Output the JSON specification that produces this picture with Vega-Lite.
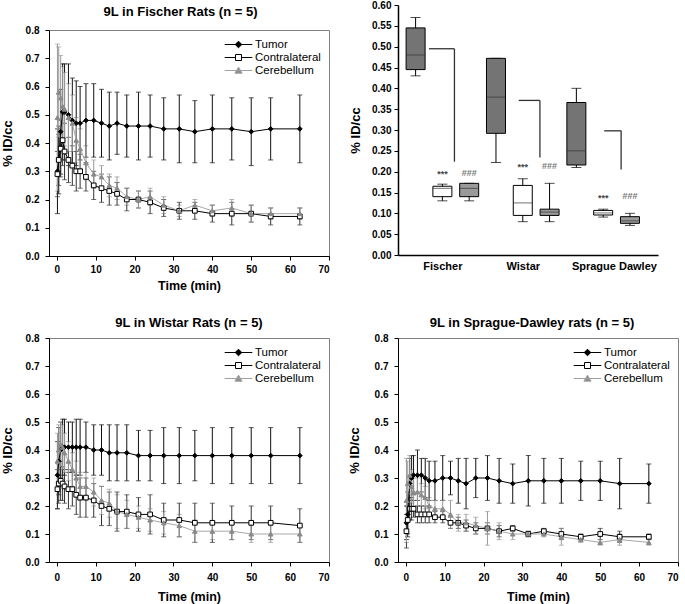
{
  "$schema": "https://vega.github.io/schema/vega-lite/v6.json",
  "padding": {"left": 0, "top": 0, "right": 0, "bottom": 0},
  "autosize": {"type": "pad"},
  "config": {
    "font": "Liberation Sans",
    "view": {"stroke": "#808080", "strokeWidth": 1},
    "axis": {"grid": false, "domainColor": "#000000", "tickColor": "#000000", "labelColor": "#000000", "titleColor": "#000000", "labelFont": "Liberation Sans", "titleFont": "Liberation Sans", "labelFontSize": 10, "labelFontWeight": "bold", "titleFontSize": 13, "titleFontWeight": "bold", "tickSize": 4, "labelPadding": 4},
    "axisY": {"labelOverlap": false},
    "title": {"font": "Liberation Sans", "fontSize": 13, "fontWeight": "bold", "color": "#000000"},
    "legend": {"labelFont": "Liberation Sans", "labelFontSize": 11.5, "labelColor": "#000000"}
  },
  "datasets": {
    "fischer": [
      {"tissue": "Tumor", "t": 0.17, "m": 0.30, "e": 0.15},
      {"tissue": "Tumor", "t": 0.5, "m": 0.34, "e": 0.12},
      {"tissue": "Tumor", "t": 1, "m": 0.44, "e": 0.15},
      {"tissue": "Tumor", "t": 1.5, "m": 0.51, "e": 0.17},
      {"tissue": "Tumor", "t": 2, "m": 0.51, "e": 0.17},
      {"tissue": "Tumor", "t": 3, "m": 0.50, "e": 0.18},
      {"tissue": "Tumor", "t": 4, "m": 0.48, "e": 0.15},
      {"tissue": "Tumor", "t": 5, "m": 0.47, "e": 0.15},
      {"tissue": "Tumor", "t": 6, "m": 0.47, "e": 0.13},
      {"tissue": "Tumor", "t": 7.5, "m": 0.48, "e": 0.13},
      {"tissue": "Tumor", "t": 9.5, "m": 0.48, "e": 0.13},
      {"tissue": "Tumor", "t": 11.5, "m": 0.47, "e": 0.12},
      {"tissue": "Tumor", "t": 13.5, "m": 0.46, "e": 0.12},
      {"tissue": "Tumor", "t": 15.5, "m": 0.47, "e": 0.11},
      {"tissue": "Tumor", "t": 18, "m": 0.46, "e": 0.11},
      {"tissue": "Tumor", "t": 21, "m": 0.46, "e": 0.12},
      {"tissue": "Tumor", "t": 24, "m": 0.46, "e": 0.11},
      {"tissue": "Tumor", "t": 27.5, "m": 0.45, "e": 0.11},
      {"tissue": "Tumor", "t": 31.5, "m": 0.45, "e": 0.12},
      {"tissue": "Tumor", "t": 35.5, "m": 0.44, "e": 0.11},
      {"tissue": "Tumor", "t": 40, "m": 0.45, "e": 0.12},
      {"tissue": "Tumor", "t": 45, "m": 0.45, "e": 0.11},
      {"tissue": "Tumor", "t": 50, "m": 0.44, "e": 0.12},
      {"tissue": "Tumor", "t": 55, "m": 0.45, "e": 0.11},
      {"tissue": "Tumor", "t": 62.5, "m": 0.45, "e": 0.12},
      {"tissue": "Contralateral", "t": 0.17, "m": 0.29, "e": 0.08},
      {"tissue": "Contralateral", "t": 0.5, "m": 0.34, "e": 0.09},
      {"tissue": "Contralateral", "t": 1, "m": 0.38, "e": 0.10},
      {"tissue": "Contralateral", "t": 1.5, "m": 0.41, "e": 0.09},
      {"tissue": "Contralateral", "t": 2, "m": 0.37, "e": 0.10},
      {"tissue": "Contralateral", "t": 3, "m": 0.34, "e": 0.08},
      {"tissue": "Contralateral", "t": 4, "m": 0.32, "e": 0.07},
      {"tissue": "Contralateral", "t": 5, "m": 0.30, "e": 0.07},
      {"tissue": "Contralateral", "t": 6, "m": 0.30, "e": 0.06},
      {"tissue": "Contralateral", "t": 7.5, "m": 0.28, "e": 0.05},
      {"tissue": "Contralateral", "t": 9.5, "m": 0.25, "e": 0.05},
      {"tissue": "Contralateral", "t": 11.5, "m": 0.24, "e": 0.05},
      {"tissue": "Contralateral", "t": 13.5, "m": 0.23, "e": 0.05},
      {"tissue": "Contralateral", "t": 15.5, "m": 0.22, "e": 0.04},
      {"tissue": "Contralateral", "t": 18, "m": 0.20, "e": 0.04},
      {"tissue": "Contralateral", "t": 21, "m": 0.20, "e": 0.03},
      {"tissue": "Contralateral", "t": 24, "m": 0.19, "e": 0.04},
      {"tissue": "Contralateral", "t": 27.5, "m": 0.17, "e": 0.03},
      {"tissue": "Contralateral", "t": 31.5, "m": 0.16, "e": 0.03},
      {"tissue": "Contralateral", "t": 35.5, "m": 0.16, "e": 0.03},
      {"tissue": "Contralateral", "t": 40, "m": 0.15, "e": 0.03},
      {"tissue": "Contralateral", "t": 45, "m": 0.15, "e": 0.04},
      {"tissue": "Contralateral", "t": 50, "m": 0.15, "e": 0.03},
      {"tissue": "Contralateral", "t": 55, "m": 0.14, "e": 0.03},
      {"tissue": "Contralateral", "t": 62.5, "m": 0.14, "e": 0.03},
      {"tissue": "Cerebellum", "t": 0.17, "m": 0.49, "e": 0.26},
      {"tissue": "Cerebellum", "t": 0.5, "m": 0.58, "e": 0.16},
      {"tissue": "Cerebellum", "t": 1, "m": 0.56, "e": 0.15},
      {"tissue": "Cerebellum", "t": 1.5, "m": 0.53, "e": 0.14},
      {"tissue": "Cerebellum", "t": 2, "m": 0.52, "e": 0.13},
      {"tissue": "Cerebellum", "t": 3, "m": 0.49, "e": 0.12},
      {"tissue": "Cerebellum", "t": 4, "m": 0.47, "e": 0.10},
      {"tissue": "Cerebellum", "t": 5, "m": 0.41, "e": 0.08},
      {"tissue": "Cerebellum", "t": 6, "m": 0.38, "e": 0.07},
      {"tissue": "Cerebellum", "t": 7.5, "m": 0.33, "e": 0.06},
      {"tissue": "Cerebellum", "t": 9.5, "m": 0.29, "e": 0.05},
      {"tissue": "Cerebellum", "t": 11.5, "m": 0.28, "e": 0.04},
      {"tissue": "Cerebellum", "t": 13.5, "m": 0.25, "e": 0.04},
      {"tissue": "Cerebellum", "t": 15.5, "m": 0.24, "e": 0.04},
      {"tissue": "Cerebellum", "t": 18, "m": 0.21, "e": 0.03},
      {"tissue": "Cerebellum", "t": 21, "m": 0.20, "e": 0.03},
      {"tissue": "Cerebellum", "t": 24, "m": 0.21, "e": 0.03},
      {"tissue": "Cerebellum", "t": 27.5, "m": 0.18, "e": 0.03},
      {"tissue": "Cerebellum", "t": 31.5, "m": 0.16, "e": 0.02},
      {"tissue": "Cerebellum", "t": 35.5, "m": 0.18, "e": 0.02},
      {"tissue": "Cerebellum", "t": 40, "m": 0.16, "e": 0.02},
      {"tissue": "Cerebellum", "t": 45, "m": 0.17, "e": 0.03},
      {"tissue": "Cerebellum", "t": 50, "m": 0.15, "e": 0.03},
      {"tissue": "Cerebellum", "t": 55, "m": 0.15, "e": 0.02},
      {"tissue": "Cerebellum", "t": 62.5, "m": 0.15, "e": 0.02}
    ],
    "wistar": [
      {"tissue": "Tumor", "t": 0.17, "m": 0.31, "e": 0.12},
      {"tissue": "Tumor", "t": 0.5, "m": 0.36, "e": 0.12},
      {"tissue": "Tumor", "t": 1, "m": 0.40, "e": 0.10},
      {"tissue": "Tumor", "t": 1.5, "m": 0.41, "e": 0.10},
      {"tissue": "Tumor", "t": 2, "m": 0.41, "e": 0.10},
      {"tissue": "Tumor", "t": 3, "m": 0.41, "e": 0.09},
      {"tissue": "Tumor", "t": 4, "m": 0.41, "e": 0.09},
      {"tissue": "Tumor", "t": 5, "m": 0.41, "e": 0.10},
      {"tissue": "Tumor", "t": 6, "m": 0.41, "e": 0.10},
      {"tissue": "Tumor", "t": 7.5, "m": 0.41, "e": 0.09},
      {"tissue": "Tumor", "t": 9.5, "m": 0.40, "e": 0.09},
      {"tissue": "Tumor", "t": 11.5, "m": 0.40, "e": 0.09},
      {"tissue": "Tumor", "t": 13.5, "m": 0.39, "e": 0.10},
      {"tissue": "Tumor", "t": 15.5, "m": 0.39, "e": 0.10},
      {"tissue": "Tumor", "t": 18, "m": 0.39, "e": 0.10},
      {"tissue": "Tumor", "t": 21, "m": 0.38, "e": 0.09},
      {"tissue": "Tumor", "t": 24, "m": 0.38, "e": 0.09},
      {"tissue": "Tumor", "t": 27.5, "m": 0.38, "e": 0.10},
      {"tissue": "Tumor", "t": 31.5, "m": 0.38, "e": 0.10},
      {"tissue": "Tumor", "t": 35.5, "m": 0.38, "e": 0.09},
      {"tissue": "Tumor", "t": 40, "m": 0.38, "e": 0.10},
      {"tissue": "Tumor", "t": 45, "m": 0.38, "e": 0.10},
      {"tissue": "Tumor", "t": 50, "m": 0.38, "e": 0.10},
      {"tissue": "Tumor", "t": 55, "m": 0.38, "e": 0.10},
      {"tissue": "Tumor", "t": 62.5, "m": 0.38, "e": 0.10},
      {"tissue": "Contralateral", "t": 0.17, "m": 0.26, "e": 0.07},
      {"tissue": "Contralateral", "t": 0.5, "m": 0.28, "e": 0.07},
      {"tissue": "Contralateral", "t": 1, "m": 0.29, "e": 0.07},
      {"tissue": "Contralateral", "t": 1.5, "m": 0.28, "e": 0.06},
      {"tissue": "Contralateral", "t": 2, "m": 0.27, "e": 0.06},
      {"tissue": "Contralateral", "t": 3, "m": 0.26, "e": 0.07},
      {"tissue": "Contralateral", "t": 4, "m": 0.26, "e": 0.06},
      {"tissue": "Contralateral", "t": 5, "m": 0.24, "e": 0.07},
      {"tissue": "Contralateral", "t": 6, "m": 0.23, "e": 0.07},
      {"tissue": "Contralateral", "t": 7.5, "m": 0.23, "e": 0.07},
      {"tissue": "Contralateral", "t": 9.5, "m": 0.22, "e": 0.06},
      {"tissue": "Contralateral", "t": 11.5, "m": 0.20, "e": 0.07},
      {"tissue": "Contralateral", "t": 13.5, "m": 0.19, "e": 0.06},
      {"tissue": "Contralateral", "t": 15.5, "m": 0.18, "e": 0.07},
      {"tissue": "Contralateral", "t": 18, "m": 0.18, "e": 0.06},
      {"tissue": "Contralateral", "t": 21, "m": 0.17, "e": 0.06},
      {"tissue": "Contralateral", "t": 24, "m": 0.17, "e": 0.07},
      {"tissue": "Contralateral", "t": 27.5, "m": 0.15, "e": 0.06},
      {"tissue": "Contralateral", "t": 31.5, "m": 0.15, "e": 0.06},
      {"tissue": "Contralateral", "t": 35.5, "m": 0.14, "e": 0.07},
      {"tissue": "Contralateral", "t": 40, "m": 0.14, "e": 0.07},
      {"tissue": "Contralateral", "t": 45, "m": 0.14, "e": 0.06},
      {"tissue": "Contralateral", "t": 50, "m": 0.14, "e": 0.06},
      {"tissue": "Contralateral", "t": 55, "m": 0.14, "e": 0.06},
      {"tissue": "Contralateral", "t": 62.5, "m": 0.13, "e": 0.06},
      {"tissue": "Cerebellum", "t": 0.17, "m": 0.36, "e": 0.10},
      {"tissue": "Cerebellum", "t": 0.5, "m": 0.40, "e": 0.09},
      {"tissue": "Cerebellum", "t": 1, "m": 0.42, "e": 0.08},
      {"tissue": "Cerebellum", "t": 1.5, "m": 0.41, "e": 0.08},
      {"tissue": "Cerebellum", "t": 2, "m": 0.39, "e": 0.07},
      {"tissue": "Cerebellum", "t": 3, "m": 0.36, "e": 0.07},
      {"tissue": "Cerebellum", "t": 4, "m": 0.33, "e": 0.06},
      {"tissue": "Cerebellum", "t": 5, "m": 0.30, "e": 0.06},
      {"tissue": "Cerebellum", "t": 6, "m": 0.27, "e": 0.05},
      {"tissue": "Cerebellum", "t": 7.5, "m": 0.27, "e": 0.05},
      {"tissue": "Cerebellum", "t": 9.5, "m": 0.25, "e": 0.05},
      {"tissue": "Cerebellum", "t": 11.5, "m": 0.22, "e": 0.05},
      {"tissue": "Cerebellum", "t": 13.5, "m": 0.21, "e": 0.05},
      {"tissue": "Cerebellum", "t": 15.5, "m": 0.18, "e": 0.06},
      {"tissue": "Cerebellum", "t": 18, "m": 0.17, "e": 0.05},
      {"tissue": "Cerebellum", "t": 21, "m": 0.16, "e": 0.04},
      {"tissue": "Cerebellum", "t": 24, "m": 0.15, "e": 0.04},
      {"tissue": "Cerebellum", "t": 27.5, "m": 0.14, "e": 0.04},
      {"tissue": "Cerebellum", "t": 31.5, "m": 0.13, "e": 0.04},
      {"tissue": "Cerebellum", "t": 35.5, "m": 0.11, "e": 0.04},
      {"tissue": "Cerebellum", "t": 40, "m": 0.11, "e": 0.03},
      {"tissue": "Cerebellum", "t": 45, "m": 0.11, "e": 0.03},
      {"tissue": "Cerebellum", "t": 50, "m": 0.10, "e": 0.03},
      {"tissue": "Cerebellum", "t": 55, "m": 0.10, "e": 0.03},
      {"tissue": "Cerebellum", "t": 62.5, "m": 0.10, "e": 0.03}
    ],
    "sd": [
      {"tissue": "Tumor", "t": 0.17, "m": 0.14, "e": 0.06},
      {"tissue": "Tumor", "t": 0.5, "m": 0.17, "e": 0.08},
      {"tissue": "Tumor", "t": 1, "m": 0.28, "e": 0.09},
      {"tissue": "Tumor", "t": 1.5, "m": 0.30, "e": 0.08},
      {"tissue": "Tumor", "t": 2, "m": 0.31, "e": 0.07},
      {"tissue": "Tumor", "t": 3, "m": 0.31, "e": 0.09},
      {"tissue": "Tumor", "t": 4, "m": 0.31, "e": 0.06},
      {"tissue": "Tumor", "t": 5, "m": 0.30, "e": 0.07},
      {"tissue": "Tumor", "t": 6, "m": 0.29, "e": 0.07},
      {"tissue": "Tumor", "t": 7.5, "m": 0.29, "e": 0.07},
      {"tissue": "Tumor", "t": 9.5, "m": 0.30, "e": 0.08},
      {"tissue": "Tumor", "t": 11.5, "m": 0.30, "e": 0.06},
      {"tissue": "Tumor", "t": 13.5, "m": 0.29, "e": 0.08},
      {"tissue": "Tumor", "t": 15.5, "m": 0.28, "e": 0.09},
      {"tissue": "Tumor", "t": 18, "m": 0.30, "e": 0.07},
      {"tissue": "Tumor", "t": 21, "m": 0.30, "e": 0.08},
      {"tissue": "Tumor", "t": 24, "m": 0.29, "e": 0.08},
      {"tissue": "Tumor", "t": 27.5, "m": 0.28, "e": 0.07},
      {"tissue": "Tumor", "t": 31.5, "m": 0.29, "e": 0.09},
      {"tissue": "Tumor", "t": 35.5, "m": 0.29, "e": 0.08},
      {"tissue": "Tumor", "t": 40, "m": 0.29, "e": 0.08},
      {"tissue": "Tumor", "t": 45, "m": 0.29, "e": 0.07},
      {"tissue": "Tumor", "t": 50, "m": 0.29, "e": 0.07},
      {"tissue": "Tumor", "t": 55, "m": 0.28, "e": 0.09},
      {"tissue": "Tumor", "t": 62.5, "m": 0.28, "e": 0.07},
      {"tissue": "Contralateral", "t": 0.17, "m": 0.11, "e": 0.06},
      {"tissue": "Contralateral", "t": 0.5, "m": 0.15, "e": 0.05},
      {"tissue": "Contralateral", "t": 1, "m": 0.19, "e": 0.04},
      {"tissue": "Contralateral", "t": 1.5, "m": 0.19, "e": 0.04},
      {"tissue": "Contralateral", "t": 2, "m": 0.19, "e": 0.03},
      {"tissue": "Contralateral", "t": 3, "m": 0.17, "e": 0.03},
      {"tissue": "Contralateral", "t": 4, "m": 0.17, "e": 0.03},
      {"tissue": "Contralateral", "t": 5, "m": 0.17, "e": 0.03},
      {"tissue": "Contralateral", "t": 6, "m": 0.17, "e": 0.03},
      {"tissue": "Contralateral", "t": 7.5, "m": 0.16, "e": 0.02},
      {"tissue": "Contralateral", "t": 9.5, "m": 0.16, "e": 0.02},
      {"tissue": "Contralateral", "t": 11.5, "m": 0.14, "e": 0.02},
      {"tissue": "Contralateral", "t": 13.5, "m": 0.14, "e": 0.02},
      {"tissue": "Contralateral", "t": 15.5, "m": 0.13, "e": 0.02},
      {"tissue": "Contralateral", "t": 18, "m": 0.12, "e": 0.02},
      {"tissue": "Contralateral", "t": 21, "m": 0.12, "e": 0.02},
      {"tissue": "Contralateral", "t": 24, "m": 0.11, "e": 0.02},
      {"tissue": "Contralateral", "t": 27.5, "m": 0.12, "e": 0.01},
      {"tissue": "Contralateral", "t": 31.5, "m": 0.10, "e": 0.01},
      {"tissue": "Contralateral", "t": 35.5, "m": 0.11, "e": 0.01},
      {"tissue": "Contralateral", "t": 40, "m": 0.10, "e": 0.02},
      {"tissue": "Contralateral", "t": 45, "m": 0.09, "e": 0.01},
      {"tissue": "Contralateral", "t": 50, "m": 0.10, "e": 0.02},
      {"tissue": "Contralateral", "t": 55, "m": 0.09, "e": 0.02},
      {"tissue": "Contralateral", "t": 62.5, "m": 0.09, "e": 0.01},
      {"tissue": "Cerebellum", "t": 0.17, "m": 0.22, "e": 0.15},
      {"tissue": "Cerebellum", "t": 0.5, "m": 0.28, "e": 0.08},
      {"tissue": "Cerebellum", "t": 1, "m": 0.31, "e": 0.07},
      {"tissue": "Cerebellum", "t": 1.5, "m": 0.27, "e": 0.06},
      {"tissue": "Cerebellum", "t": 2, "m": 0.25, "e": 0.05},
      {"tissue": "Cerebellum", "t": 3, "m": 0.25, "e": 0.05},
      {"tissue": "Cerebellum", "t": 4, "m": 0.24, "e": 0.04},
      {"tissue": "Cerebellum", "t": 5, "m": 0.23, "e": 0.04},
      {"tissue": "Cerebellum", "t": 6, "m": 0.20, "e": 0.03},
      {"tissue": "Cerebellum", "t": 7.5, "m": 0.19, "e": 0.03},
      {"tissue": "Cerebellum", "t": 9.5, "m": 0.19, "e": 0.03},
      {"tissue": "Cerebellum", "t": 11.5, "m": 0.17, "e": 0.05},
      {"tissue": "Cerebellum", "t": 13.5, "m": 0.14, "e": 0.03},
      {"tissue": "Cerebellum", "t": 15.5, "m": 0.14, "e": 0.03},
      {"tissue": "Cerebellum", "t": 18, "m": 0.13, "e": 0.03},
      {"tissue": "Cerebellum", "t": 21, "m": 0.12, "e": 0.06},
      {"tissue": "Cerebellum", "t": 24, "m": 0.11, "e": 0.03},
      {"tissue": "Cerebellum", "t": 27.5, "m": 0.10, "e": 0.02},
      {"tissue": "Cerebellum", "t": 31.5, "m": 0.10, "e": 0.01},
      {"tissue": "Cerebellum", "t": 35.5, "m": 0.10, "e": 0.01},
      {"tissue": "Cerebellum", "t": 40, "m": 0.09, "e": 0.03},
      {"tissue": "Cerebellum", "t": 45, "m": 0.08, "e": 0.01},
      {"tissue": "Cerebellum", "t": 50, "m": 0.07, "e": 0.01},
      {"tissue": "Cerebellum", "t": 55, "m": 0.08, "e": 0.02},
      {"tissue": "Cerebellum", "t": 62.5, "m": 0.07, "e": 0.01}
    ],
    "box": [
      {"strain": "Fischer", "tissue": "Tumor", "pos": 1, "lo": 0.43, "q1": 0.445, "med": 0.48, "q3": 0.545, "hi": 0.57, "sig": "", "sy": 0},
      {"strain": "Fischer", "tissue": "Contralateral", "pos": 2, "lo": 0.13, "q1": 0.14, "med": 0.16, "q3": 0.165, "hi": 0.17, "sig": "***", "sy": 0.194},
      {"strain": "Fischer", "tissue": "Cerebellum", "pos": 3, "lo": 0.13, "q1": 0.14, "med": 0.16, "q3": 0.172, "hi": 0.172, "sig": "###", "sy": 0.197},
      {"strain": "Wistar", "tissue": "Tumor", "pos": 4, "lo": 0.222, "q1": 0.292, "med": 0.379, "q3": 0.472, "hi": 0.472, "sig": "", "sy": 0},
      {"strain": "Wistar", "tissue": "Contralateral", "pos": 5, "lo": 0.08, "q1": 0.095, "med": 0.125, "q3": 0.167, "hi": 0.183, "sig": "***", "sy": 0.212},
      {"strain": "Wistar", "tissue": "Cerebellum", "pos": 6, "lo": 0.08, "q1": 0.095, "med": 0.103, "q3": 0.11, "hi": 0.172, "sig": "###", "sy": 0.214},
      {"strain": "Sprague Dawley", "tissue": "Tumor", "pos": 7, "lo": 0.21, "q1": 0.216, "med": 0.25, "q3": 0.366, "hi": 0.40, "sig": "", "sy": 0},
      {"strain": "Sprague Dawley", "tissue": "Contralateral", "pos": 8, "lo": 0.091, "q1": 0.096, "med": 0.101, "q3": 0.107, "hi": 0.11, "sig": "***", "sy": 0.137},
      {"strain": "Sprague Dawley", "tissue": "Cerebellum", "pos": 9, "lo": 0.071, "q1": 0.076, "med": 0.082, "q3": 0.092, "hi": 0.10, "sig": "###", "sy": 0.141}
    ],
    "brackets": [
      {"strain": "Fischer", "x1": 1.5, "x2": 2.45, "top": 0.495, "bot": 0.224},
      {"strain": "Wistar", "x1": 4.85, "x2": 5.64, "top": 0.371, "bot": 0.234},
      {"strain": "Sprague Dawley", "x1": 8.04, "x2": 8.67, "top": 0.298, "bot": 0.205}
    ]
  },
  "columns": 2,
  "align": "none",
  "spacing": 18,
  "concat": [
    {
      "spacing": 24,
      "vconcat": [
        {
          "width": 280,
          "height": 226,
          "data": {"name": "fischer"},
          "encoding": {
            "y": {"field": "m", "type": "quantitative", "scale": {"domain": [0, 0.8], "nice": false}, "axis": {"values": [0, 0.1, 0.2, 0.3, 0.4, 0.5, 0.6, 0.7, 0.8], "tickCount": 20, "format": ".1f", "title": "% ID/cc", "labelPadding": 6, "titlePadding": 11}}
          },
          "layer": [
            {"mark": {"type": "errorbar", "ticks": {"size": 5}, "thickness": 1}, "encoding": {
              "x": {"field": "t", "type": "quantitative", "scale": {"domain": [-2, 70], "nice": false, "zero": false}, "axis": {"values": [0, 10, 20, 30, 40, 50, 60, 70], "title": "Time (min)", "titleFontSize": 12.5, "labelPadding": 4, "titlePadding": 5}},
              "yError": {"field": "e"}, "color": {"field": "tissue", "type": "nominal", "scale": {"domain": ["Tumor", "Contralateral", "Cerebellum"], "range": ["#111111", "#333333", "#9a9a9a"]}, "legend": null}}},
            {"mark": {"type": "line", "strokeWidth": 1}, "encoding": {
              "x": {"field": "t", "type": "quantitative", "scale": {"domain": [-2, 70], "nice": false, "zero": false}, "axis": null},
              "color": {"field": "tissue", "type": "nominal", "scale": {"domain": ["Tumor", "Contralateral", "Cerebellum"], "range": ["#000000", "#000000", "#a8a8a8"]}, "legend": null}}},
            {"mark": {"type": "point", "opacity": 1, "strokeWidth": 1, "size": 22}, "encoding": {
              "x": {"field": "t", "type": "quantitative", "scale": {"domain": [-2, 70], "nice": false, "zero": false}, "axis": null},
              "shape": {"field": "tissue", "type": "nominal", "scale": {"domain": ["Tumor", "Contralateral", "Cerebellum"], "range": ["diamond", "square", "triangle-up"]}, "legend": null},
              "fill": {"field": "tissue", "type": "nominal", "scale": {"domain": ["Tumor", "Contralateral", "Cerebellum"], "range": ["#000000", "#ffffff", "#8a8a8a"]}, "legend": null},
              "stroke": {"field": "tissue", "type": "nominal", "scale": {"domain": ["Tumor", "Contralateral", "Cerebellum"], "range": ["#000000", "#000000", "#8a8a8a"]}, "legend": null}}},
            {"transform": [{"filter": "datum.t < 0"}], "mark": {"type": "point", "opacity": 1, "strokeWidth": 1}, "encoding": {
              "x": {"field": "t", "type": "quantitative", "scale": {"domain": [-2, 70], "nice": false, "zero": false}, "axis": null},
              "shape": {"field": "tissue", "type": "nominal", "scale": {"domain": ["Tumor", "Contralateral", "Cerebellum"], "range": ["M-2.3,0H2.3M0,-0.55L0.55,0L0,0.55L-0.55,0Z", "M-2.3,0H-0.5M0.5,0H2.3M-0.5,-0.5H0.5V0.5H-0.5Z", "M-2.3,0H2.3M0,-0.55L0.6,0.45L-0.6,0.45Z"]}, "legend": {"title": null, "orient": "top-right", "offset": 8, "symbolSize": 144, "symbolStrokeWidth": 1, "labelOffset": 10, "rowPadding": 1}},
              "fill": {"field": "tissue", "type": "nominal", "scale": {"domain": ["Tumor", "Contralateral", "Cerebellum"], "range": ["#000000", "#ffffff", "#8a8a8a"]}, "legend": {"title": null, "orient": "top-right", "offset": 8, "symbolSize": 144, "symbolStrokeWidth": 1, "labelOffset": 10, "rowPadding": 1}},
              "stroke": {"field": "tissue", "type": "nominal", "scale": {"domain": ["Tumor", "Contralateral", "Cerebellum"], "range": ["#000000", "#000000", "#a0a0a0"]}, "legend": {"title": null, "orient": "top-right", "offset": 8, "symbolSize": 144, "symbolStrokeWidth": 1, "labelOffset": 10, "rowPadding": 1}}}},
            {"transform": [{"filter": "datum.t < 0"}], "mark": {"type": "point", "opacity": 0}, "encoding": {
              "x": {"field": "t", "type": "quantitative", "scale": {"domain": [-2, 70], "nice": false, "zero": false}, "axis": {"orient": "top", "title": ["", "9L in Fischer Rats (n = 5)"], "titleLineHeight": 4.5, "titleFontSize": 13, "titlePadding": 11.5, "titleX": 131, "labels": false, "ticks": false, "domain": false}}}}
          ],
          "resolve": {"scale": {"x": "independent", "color": "independent", "shape": "independent", "fill": "independent", "stroke": "independent"}, "axis": {"x": "independent"}, "legend": {"color": "independent", "shape": "independent", "fill": "independent", "stroke": "independent"}}
        },
        {
          "width": 280,
          "height": 224,
          "title": {"text": "9L in Wistar Rats (n = 5)", "offset": 3},
          "data": {"name": "wistar"},
          "encoding": {
            "x": {"field": "t", "type": "quantitative", "scale": {"domain": [-2, 70], "nice": false, "zero": false}, "axis": {"values": [0, 10, 20, 30, 40, 50, 60, 70], "title": "Time (min)", "titleFontSize": 12.5, "labelPadding": 6.5, "titlePadding": 8}},
            "y": {"field": "m", "type": "quantitative", "scale": {"domain": [0, 0.8], "nice": false}, "axis": {"values": [0, 0.1, 0.2, 0.3, 0.4, 0.5, 0.6, 0.7, 0.8], "tickCount": 20, "format": ".1f", "title": "% ID/cc", "labelPadding": 6, "titlePadding": 11}}
          },
          "layer": [
            {"mark": {"type": "errorbar", "ticks": {"size": 5}, "thickness": 1}, "encoding": {"yError": {"field": "e"}, "color": {"field": "tissue", "type": "nominal", "scale": {"domain": ["Tumor", "Contralateral", "Cerebellum"], "range": ["#111111", "#333333", "#9a9a9a"]}, "legend": null}}},
            {"mark": {"type": "line", "strokeWidth": 1}, "encoding": {"color": {"field": "tissue", "type": "nominal", "scale": {"domain": ["Tumor", "Contralateral", "Cerebellum"], "range": ["#000000", "#000000", "#a8a8a8"]}, "legend": null}}},
            {"mark": {"type": "point", "opacity": 1, "strokeWidth": 1, "size": 22}, "encoding": {
              "shape": {"field": "tissue", "type": "nominal", "scale": {"domain": ["Tumor", "Contralateral", "Cerebellum"], "range": ["diamond", "square", "triangle-up"]}, "legend": null},
              "fill": {"field": "tissue", "type": "nominal", "scale": {"domain": ["Tumor", "Contralateral", "Cerebellum"], "range": ["#000000", "#ffffff", "#8a8a8a"]}, "legend": null},
              "stroke": {"field": "tissue", "type": "nominal", "scale": {"domain": ["Tumor", "Contralateral", "Cerebellum"], "range": ["#000000", "#000000", "#8a8a8a"]}, "legend": null}}},
            {"transform": [{"filter": "datum.t < 0"}], "mark": {"type": "point", "opacity": 1, "strokeWidth": 1}, "encoding": {
              "shape": {"field": "tissue", "type": "nominal", "scale": {"domain": ["Tumor", "Contralateral", "Cerebellum"], "range": ["M-2.3,0H2.3M0,-0.55L0.55,0L0,0.55L-0.55,0Z", "M-2.3,0H-0.5M0.5,0H2.3M-0.5,-0.5H0.5V0.5H-0.5Z", "M-2.3,0H2.3M0,-0.55L0.6,0.45L-0.6,0.45Z"]}, "legend": {"title": null, "orient": "top-right", "offset": 8, "symbolSize": 144, "symbolStrokeWidth": 1, "labelOffset": 10, "rowPadding": 1}},
              "fill": {"field": "tissue", "type": "nominal", "scale": {"domain": ["Tumor", "Contralateral", "Cerebellum"], "range": ["#000000", "#ffffff", "#8a8a8a"]}, "legend": {"title": null, "orient": "top-right", "offset": 8, "symbolSize": 144, "symbolStrokeWidth": 1, "labelOffset": 10, "rowPadding": 1}},
              "stroke": {"field": "tissue", "type": "nominal", "scale": {"domain": ["Tumor", "Contralateral", "Cerebellum"], "range": ["#000000", "#000000", "#a0a0a0"]}, "legend": {"title": null, "orient": "top-right", "offset": 8, "symbolSize": 144, "symbolStrokeWidth": 1, "labelOffset": 10, "rowPadding": 1}}}}
          ],
          "resolve": {"scale": {"color": "independent", "shape": "independent", "fill": "independent", "stroke": "independent"}, "legend": {"color": "independent", "shape": "independent", "fill": "independent", "stroke": "independent"}}
        }
      ]
    },
    {
      "spacing": 36,
      "vconcat": [
        {
          "width": 260,
          "height": 225,
          "view": {"stroke": null},
          "data": {"name": "box"},
          "encoding": {
            "x": {"field": "pos", "type": "quantitative", "scale": {"domain": [0.53, 9.86], "nice": false, "zero": false}, "axis": {"values": [2, 5, 8.4], "labelExpr": "datum.value == 2 ? 'Fischer' : datum.value == 5 ? 'Wistar' : 'Sprague Dawley'", "ticks": false, "title": null, "labelFontSize": 11, "labelPadding": 5, "domainWidth": 1.5}}
          },
          "layer": [
            {"mark": {"type": "rule", "color": "#000000", "strokeWidth": 1}, "encoding": {"y": {"field": "lo", "type": "quantitative", "scale": {"domain": [0, 0.6], "nice": false, "range": [225, -25]}, "axis": {"values": [0, 0.05, 0.1, 0.15, 0.2, 0.25, 0.3, 0.35, 0.4, 0.45, 0.5, 0.55, 0.6], "tickCount": 30, "format": ".2f", "labelOverlap": false, "title": "% ID/cc", "labelPadding": 3, "titlePadding": 9, "domainWidth": 1.5}}, "y2": {"field": "hi"}}},
            {"mark": {"type": "tick", "orient": "horizontal", "size": 10, "thickness": 1, "color": "#000000"}, "encoding": {"y": {"field": "lo", "type": "quantitative"}}},
            {"mark": {"type": "tick", "orient": "horizontal", "size": 10, "thickness": 1, "color": "#000000"}, "encoding": {"y": {"field": "hi", "type": "quantitative"}}},
            {"mark": {"type": "bar", "size": 19, "stroke": "#000000", "strokeWidth": 1}, "encoding": {"y": {"field": "q1", "type": "quantitative"}, "y2": {"field": "q3"}, "fill": {"field": "tissue", "type": "nominal", "scale": {"domain": ["Tumor", "Contralateral", "Cerebellum"], "range": ["#747474", "#ffffff", "#9a9a9a"]}, "legend": null}}},
            {"mark": {"type": "tick", "orient": "horizontal", "size": 19, "thickness": 1, "color": "#333333"}, "encoding": {"y": {"field": "med", "type": "quantitative"}}},
            {"data": {"name": "brackets"}, "mark": {"type": "rule", "color": "#333333", "strokeWidth": 1.3}, "encoding": {"x": {"field": "x1", "type": "quantitative"}, "x2": {"field": "x2"}, "y": {"field": "top", "type": "quantitative"}}},
            {"data": {"name": "brackets"}, "mark": {"type": "rule", "color": "#333333", "strokeWidth": 1.3}, "encoding": {"x": {"field": "x2", "type": "quantitative"}, "y": {"field": "top", "type": "quantitative"}, "y2": {"field": "bot"}}},
            {"transform": [{"filter": "datum.sig != ''"}], "mark": {"type": "text", "fontSize": 9, "fontWeight": "bold"}, "encoding": {"y": {"field": "sy", "type": "quantitative"}, "text": {"field": "sig"}, "color": {"field": "sig", "type": "nominal", "scale": {"domain": ["***", "###"], "range": ["#444444", "#777777"]}, "legend": null}}}
          ]
        },
        {
          "width": 280,
          "height": 224,
          "title": {"text": "9L in Sprague-Dawley rats (n = 5)", "offset": 3, "dx": -6},
          "data": {"name": "sd"},
          "encoding": {
            "x": {"field": "t", "type": "quantitative", "scale": {"domain": [-2, 70], "nice": false, "zero": false}, "axis": {"values": [0, 10, 20, 30, 40, 50, 60, 70], "title": "Time (min)", "titleFontSize": 12.5, "labelPadding": 6.5, "titlePadding": 8}},
            "y": {"field": "m", "type": "quantitative", "scale": {"domain": [0, 0.8], "nice": false}, "axis": {"values": [0, 0.1, 0.2, 0.3, 0.4, 0.5, 0.6, 0.7, 0.8], "tickCount": 20, "format": ".1f", "title": "% ID/cc", "labelPadding": 6, "titlePadding": 12.5}}
          },
          "layer": [
            {"mark": {"type": "errorbar", "ticks": {"size": 5}, "thickness": 1}, "encoding": {"yError": {"field": "e"}, "color": {"field": "tissue", "type": "nominal", "scale": {"domain": ["Tumor", "Contralateral", "Cerebellum"], "range": ["#111111", "#333333", "#9a9a9a"]}, "legend": null}}},
            {"mark": {"type": "line", "strokeWidth": 1}, "encoding": {"color": {"field": "tissue", "type": "nominal", "scale": {"domain": ["Tumor", "Contralateral", "Cerebellum"], "range": ["#000000", "#000000", "#a8a8a8"]}, "legend": null}}},
            {"mark": {"type": "point", "opacity": 1, "strokeWidth": 1, "size": 22}, "encoding": {
              "shape": {"field": "tissue", "type": "nominal", "scale": {"domain": ["Tumor", "Contralateral", "Cerebellum"], "range": ["diamond", "square", "triangle-up"]}, "legend": null},
              "fill": {"field": "tissue", "type": "nominal", "scale": {"domain": ["Tumor", "Contralateral", "Cerebellum"], "range": ["#000000", "#ffffff", "#8a8a8a"]}, "legend": null},
              "stroke": {"field": "tissue", "type": "nominal", "scale": {"domain": ["Tumor", "Contralateral", "Cerebellum"], "range": ["#000000", "#000000", "#8a8a8a"]}, "legend": null}}},
            {"transform": [{"filter": "datum.t < 0"}], "mark": {"type": "point", "opacity": 1, "strokeWidth": 1}, "encoding": {
              "shape": {"field": "tissue", "type": "nominal", "scale": {"domain": ["Tumor", "Contralateral", "Cerebellum"], "range": ["M-2.3,0H2.3M0,-0.55L0.55,0L0,0.55L-0.55,0Z", "M-2.3,0H-0.5M0.5,0H2.3M-0.5,-0.5H0.5V0.5H-0.5Z", "M-2.3,0H2.3M0,-0.55L0.6,0.45L-0.6,0.45Z"]}, "legend": {"title": null, "orient": "top-right", "offset": 8, "symbolSize": 144, "symbolStrokeWidth": 1, "labelOffset": 10, "rowPadding": 1}},
              "fill": {"field": "tissue", "type": "nominal", "scale": {"domain": ["Tumor", "Contralateral", "Cerebellum"], "range": ["#000000", "#ffffff", "#8a8a8a"]}, "legend": {"title": null, "orient": "top-right", "offset": 8, "symbolSize": 144, "symbolStrokeWidth": 1, "labelOffset": 10, "rowPadding": 1}},
              "stroke": {"field": "tissue", "type": "nominal", "scale": {"domain": ["Tumor", "Contralateral", "Cerebellum"], "range": ["#000000", "#000000", "#a0a0a0"]}, "legend": {"title": null, "orient": "top-right", "offset": 8, "symbolSize": 144, "symbolStrokeWidth": 1, "labelOffset": 10, "rowPadding": 1}}}}
          ],
          "resolve": {"scale": {"color": "independent", "shape": "independent", "fill": "independent", "stroke": "independent"}, "legend": {"color": "independent", "shape": "independent", "fill": "independent", "stroke": "independent"}}
        }
      ]
    }
  ]
}
